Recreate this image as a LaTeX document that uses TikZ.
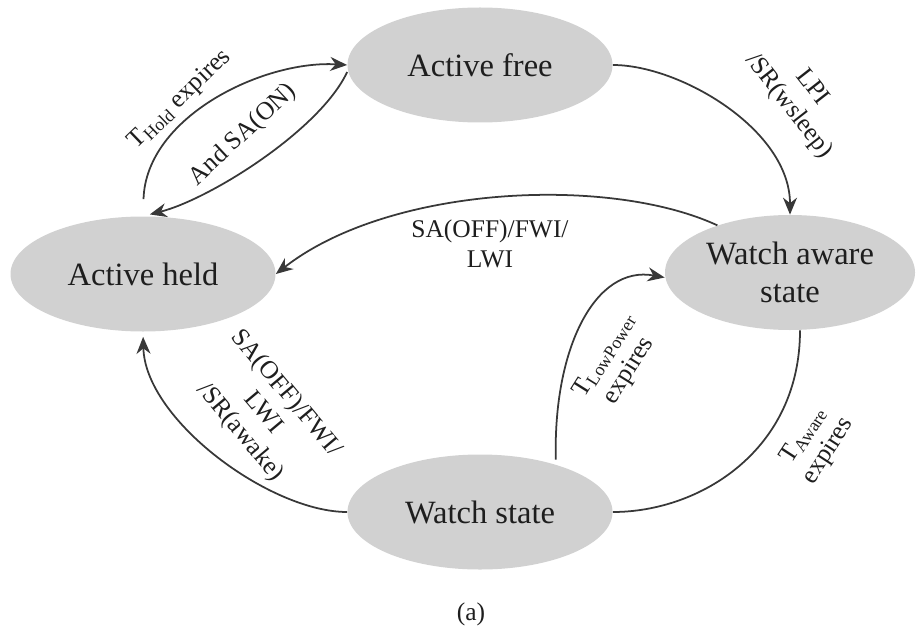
\documentclass[tikz,border=0pt]{standalone}
\usepackage{fontspec}
\setmainfont{Liberation Serif}
\usetikzlibrary{arrows.meta, shapes.geometric}
\definecolor{StateGray}{HTML}{D1D1D1}
\definecolor{EdgeGray}{HTML}{383838}
\definecolor{TextDark}{HTML}{1E1E1E}

\begin{document}
\begin{tikzpicture}[
    state/.style={ellipse, fill=StateGray, minimum width=5.3cm, minimum height=2.3cm, inner sep=0pt, align=center, text=TextDark, font=\fontsize{18.5}{22}\selectfont},
    trans/.style={line width=1pt, EdgeGray, -{Stealth[length=3.4mm, width=2.8mm]}},
    lbl/.style={align=center, text=TextDark, font=\fontsize{14.5}{17}\selectfont}
  ]
  \useasboundingbox (0,0) rectangle (18.4,12.78);

  % states
  \node[state] (free) at (9.60,11.48) {Active free};
  \node[state] (held) at (2.86,7.30) {Active held};
  \node[state, minimum width=5.0cm] (aware) at (15.80,7.33) {Watch aware\\state};
  \node[state] (watch) at (9.60,2.54) {Watch state};

  % transitions
  \draw[trans, shorten <=0.34cm] (held.north) .. controls +(0.06,2.0) and +(-1.66,0.1) .. (free.west);
  \draw[trans, shorten >=0.14cm] ([yshift=-0.14cm]free.west) .. controls +(-0.54,-1.16) and +(1.34,0.34) .. (held.north);
  \draw[trans] (free.east) .. controls +(1.34,0) and +(0,1.7) .. (aware.north);
  \draw[trans] (aware.147) .. controls +(-2.16,1.0) and +(2.28,1.78) .. (held.east);
  \draw[trans, shorten >=0.1cm] (watch.west) .. controls +(-1.54,0) and +(0.04,-1.76) .. (held.south);
  \draw[trans, shorten <=0.1cm] (watch.32) .. controls +(-0.06,2.3) and +(-1.4,0.26) .. ([yshift=-0.1cm]aware.west);
  \draw[line width=1pt, EdgeGray] ([xshift=0.2cm]aware.south) .. controls +(0,-2.4) and +(1.74,0) .. (watch.east);

  % labels
  \node[lbl, rotate=44] (thold) at (3.60,10.78) {T\textsubscript{Hold} expires};
  \node[lbl, rotate=43] (andsa) at (4.86,10.08) {And SA(ON)};
  \node[lbl, rotate=-52] (lpi) at (16.00,10.84) {LPI\\/SR(wsleep)};
  \node[lbl] (offtop) at (9.80,7.90) {SA(OFF)/FWI/\\LWI};
  \node[lbl, rotate=-50] (offlow) at (5.26,4.52) {SA(OFF)/FWI/\\LWI\\/SR(awake)};
  \node[lbl, rotate=58] (tlow) at (12.34,5.52) {T\textsubscript{LowPower}\\expires};
  \node[lbl, rotate=57] (taware) at (16.32,3.92) {T\textsubscript{Aware}\\expires};
  \node[lbl] (cap) at (9.42,0.50) {(a)};
\end{tikzpicture}
\end{document}
